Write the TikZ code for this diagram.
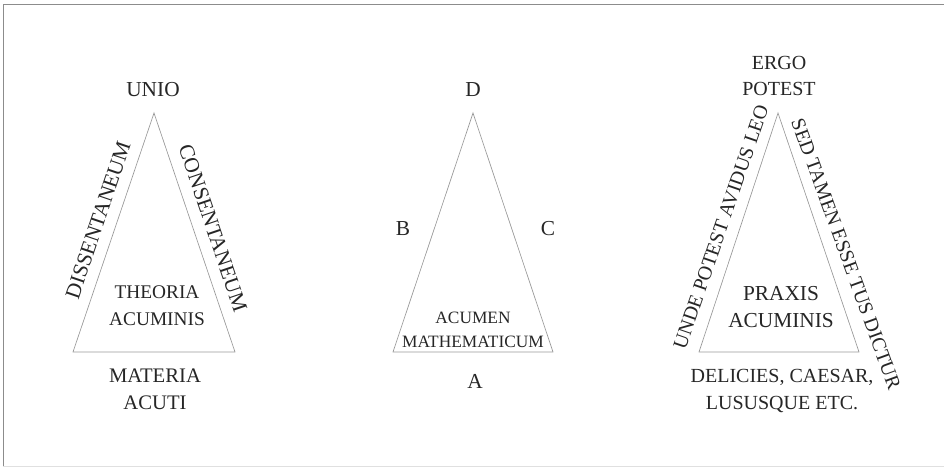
\documentclass[tikz,border=0pt]{standalone}
\usepackage{fontspec}
\setmainfont{Liberation Serif}
\begin{document}
\begin{tikzpicture}[x=0.75pt,y=-0.75pt,
  tri/.style={draw=black!40,line width=0.5pt},
  lbl/.style={text=black!85,font=\fontsize{16}{20}\selectfont,inner sep=0pt,align=center},
  mid/.style={lbl,font=\fontsize{15}{20}\selectfont},
  sml/.style={text=black!85,font=\fontsize{13}{18}\selectfont,inner sep=0pt,align=center},
  frame/.style={draw=black!45,line width=0.6pt}]
\useasboundingbox (0,0) rectangle (944,468);
\coordinate (f1) at (3,466);
\coordinate (f2) at (3,4);
\coordinate (f3) at (944,4);
\coordinate (f4) at (944,466);
\draw[frame] (f1) -- (f2) -- (f3);
\draw[draw=black!12,line width=0.5pt] (f1) -- (f4);
% triangle 1
\coordinate (a1) at (154,113);
\coordinate (b1) at (73,352);
\coordinate (c1) at (235,352);
\draw[tri] (a1) -- (b1) -- (c1) -- cycle;
\node[lbl] (unio) at (153,90) {UNIO};
\node[lbl,font=\fontsize{14.5}{20}\selectfont] (theoria) at (157,306) {THEORIA\\ACUMINIS};
\node[lbl,font=\fontsize{15.5}{20}\selectfont] (materia) at (155,389) {MATERIA\\ACUTI};
\node[lbl,rotate=71.3] (diss) at (98,220) {DISSENTANEUM};
\node[lbl,rotate=-71.3] (cons) at (213,228) {CONSENTANEUM};
% triangle 2
\coordinate (a2) at (473,113);
\coordinate (b2) at (393,352);
\coordinate (c2) at (553,352);
\draw[tri] (a2) -- (b2) -- (c2) -- cycle;
\node[lbl] (D) at (473,90) {D};
\node[lbl] (B) at (403,229) {B};
\node[lbl] (C) at (548,229) {C};
\node[lbl] (A) at (475,381) {A};
\node[sml] (acumen) at (473,330) {ACUMEN\\MATHEMATICUM};
% triangle 3
\coordinate (a3) at (778,113);
\coordinate (b3) at (699,352);
\coordinate (c3) at (859,352);
\draw[tri] (a3) -- (b3) -- (c3) -- cycle;
\node[mid] (ergo) at (779,76) {ERGO\\POTEST};
\node[lbl] (praxis) at (781,307) {PRAXIS\\ACUMINIS};
\node[mid] (delicies) at (782,391) {DELICIES, CAESAR,\\LUSUSQUE ETC.};
\node[mid,rotate=71] (unde) at (721,227) {UNDE POTEST AVIDUS LEO};
\node[mid,rotate=-70] (sed) at (846,254) {SED TAMEN ESSE TUS DICTUR};
\end{tikzpicture}
\end{document}
